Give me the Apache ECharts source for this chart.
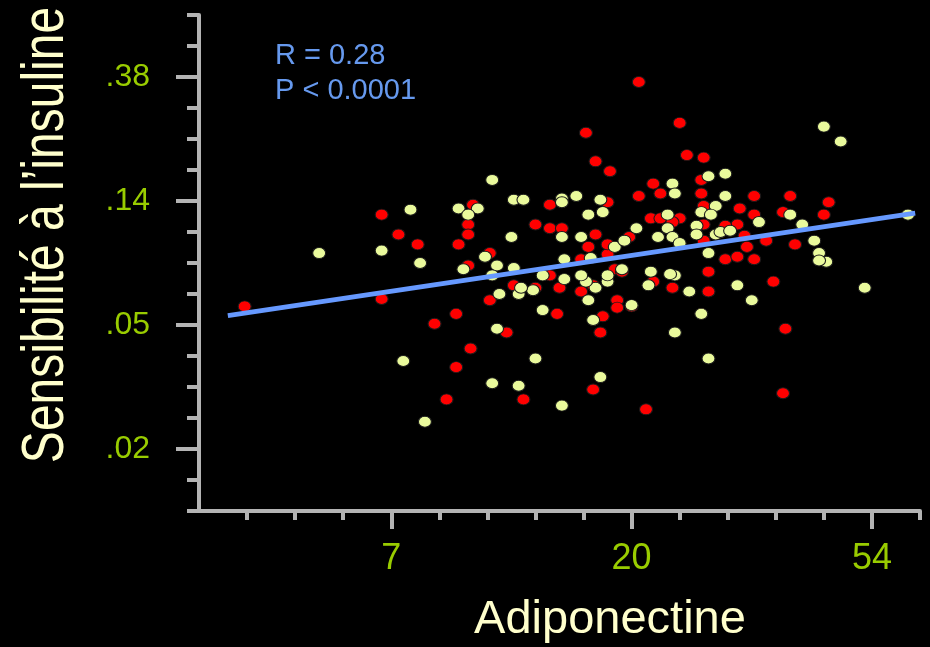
<!DOCTYPE html>
<html>
<head>
<meta charset="utf-8">
<style>
  html, body { margin: 0; padding: 0; background: #000; }
  #chart { width: 930px; height: 647px; }
</style>
<script src="https://cdn.jsdelivr.net/npm/echarts@6/dist/echarts.min.js"></script>
</head>
<body>
<div id="chart"></div>
<script>
// Both variables are plotted on natural-log scales (ln units).
const xTickValues = [2, 3, 4];
const xTickLabels = ['7', '20', '54'];
const yTickValues = [-4, -3, -2, -1];
const yTickLabels = ['.02', '.05', '.14', '.38'];

// Group 1 (red): ln(adiponectine), ln(sensibilité à l'insuline)
const redLnAdipo = [
  1.96, 2.03, 2.11, 1.39, 1.96, 2.34, 2.32, 2.32, 2.28, 2.60,
  2.66, 2.66, 2.41, 2.32, 2.66, 2.51, 2.60, 2.70, 2.41, 2.69,
  2.27, 2.18, 2.48, 2.33, 2.27, 2.23, 2.55, 3.03, 3.20, 2.81,
  2.85, 2.91, 3.23, 3.30, 3.29, 3.09, 3.12, 3.03, 3.29, 3.51,
  3.66, 3.82, 3.80, 3.63, 3.45, 3.51, 3.30, 3.08, 3.12, 3.20,
  3.17, 3.30, 3.44, 3.39, 3.47, 3.30, 3.48, 3.56, 3.68, 3.39,
  3.44, 3.51, 3.59, 3.32, 3.32, 3.17, 3.09, 3.29, 3.64, 3.63,
  3.06, 2.84, 2.87, 2.88, 2.94, 2.94, 3.00, 2.79, 2.84, 2.93,
  2.96, 2.79, 2.90, 2.82, 2.90, 2.99, 2.85, 2.71, 2.90
];
const redLnSI = [
  -2.11, -2.27, -2.35, -2.85, -2.79, -2.03, -2.19, -2.27, -2.35, -2.19,
  -2.03, -2.22, -2.42, -2.52, -2.60, -2.68, -2.70, -2.70, -2.80, -2.91,
  -2.91, -2.99, -3.06, -3.19, -3.34, -3.60, -3.60, -1.04, -1.37, -1.45,
  -1.68, -1.76, -1.63, -1.65, -1.83, -1.86, -1.94, -1.96, -1.94, -1.96,
  -1.96, -2.01, -2.11, -2.09, -2.06, -2.11, -2.04, -2.14, -2.14, -2.14,
  -2.17, -2.19, -2.19, -2.20, -2.28, -2.32, -2.37, -2.32, -2.35, -2.47,
  -2.45, -2.47, -2.65, -2.57, -2.73, -2.70, -2.65, -2.91, -3.03, -3.55,
  -3.68, -3.52, -3.06, -2.93, -2.80, -2.86, -2.85, -2.73, -2.68, -2.55,
  -2.57, -2.47, -2.43, -2.37, -2.35, -2.29, -2.27, -2.22, -2.01
];

// Group 2 (pale yellow)
const yellowLnAdipo = [
  2.42, 2.51, 2.55, 2.08, 1.96, 1.70, 2.12, 2.28, 2.36, 2.32,
  2.50, 2.39, 2.44, 2.30, 2.42, 2.51, 2.63, 2.53, 2.59, 2.45,
  2.63, 2.44, 2.05, 2.60, 2.42, 2.53, 2.14, 2.71, 2.54, 3.80,
  3.87, 3.32, 3.39, 3.17, 3.18, 3.39, 4.15, 3.66, 3.71, 3.53,
  3.35, 3.29, 3.33, 3.15, 3.15, 3.17, 3.20, 3.11, 3.02, 3.27,
  3.27, 3.35, 3.37, 3.41, 3.32, 3.76, 3.78, 3.81, 3.78, 3.97,
  3.44, 3.50, 3.24, 3.18, 3.16, 3.08, 3.07, 3.29, 3.18, 3.32,
  2.87, 2.84, 3.00, 2.82, 2.85, 2.81, 2.79, 2.90, 2.90, 2.96,
  2.72, 2.72, 2.83, 2.93, 2.97, 2.79, 2.71, 2.71, 2.77, 2.87,
  2.82, 2.88, 2.71
];
const yellowLnSI = [
  -1.83, -1.99, -1.99, -2.07, -2.40, -2.42, -2.50, -2.06, -2.06, -2.11,
  -2.29, -2.45, -2.52, -2.55, -2.60, -2.54, -2.60, -2.75, -2.72, -2.75,
  -2.88, -3.03, -3.29, -3.27, -3.47, -3.49, -3.78, -3.65, -2.70, -1.40,
  -1.52, -1.80, -1.78, -1.86, -1.94, -1.96, -2.11, -2.11, -2.19, -2.17,
  -2.04, -2.09, -2.11, -2.11, -2.22, -2.29, -2.34, -2.29, -2.22, -2.20,
  -2.27, -2.27, -2.25, -2.24, -2.42, -2.32, -2.42, -2.49, -2.48, -2.70,
  -2.68, -2.80, -2.73, -2.60, -2.59, -2.57, -2.68, -2.91, -3.06, -3.27,
  -3.42, -2.96, -2.84, -2.80, -2.70, -2.65, -2.60, -2.65, -2.60, -2.55,
  -2.63, -2.47, -2.46, -2.37, -2.32, -2.29, -2.29, -1.98, -1.96, -1.99,
  -2.11, -2.09, -2.01
];

// Least-squares fit in log-log space
const fitSlope = 0.289;
const fitIntercept = -3.306;
const fitXRange = [1.32, 4.18];
const statText = ['R = 0.28', 'P < 0.0001'];

const xRange = [1.2, 4.2];
const yRange = [-4.5, -0.5];

const FONT = "'Liberation Sans', Arial, Helvetica, sans-serif";
const AXIS_GREY = '#b4b4b4';
const LABEL_GREEN = '#99cc00';
const TITLE_CREAM = '#ffffcc';

function zip(xs, ys) { return xs.map((x, i) => [x, ys[i]]); }
function r2(v) { return Math.round(v * 100) / 100; }

// minor tick positions: every 0.2 on x, every 0.25 on y
const xMinor = [];
for (let i = 0; i <= 14; i++) {
  const v = r2(1.4 + i * 0.2);
  if (!xTickValues.includes(v)) xMinor.push(v);
}
const yMinor = [];
for (let i = 0; i <= 16; i++) {
  const v = r2(yRange[0] + i * 0.25);
  if (!yTickValues.includes(v)) yMinor.push(v);
}

const fitLine = fitXRange.map(x => [x, fitIntercept + fitSlope * x]);

const chart = echarts.init(document.getElementById('chart'), null, { renderer: 'canvas' });

const gridBox = { left: 199, right: 10, top: 15, bottom: 136, outerBoundsMode: 'none' };

chart.setOption({
  backgroundColor: '#000000',
  animation: false,
  grid: gridBox,
  xAxis: [
    {
      type: 'value', min: xRange[0], max: xRange[1],
      axisLine: { show: true, lineStyle: { color: AXIS_GREY, width: 4 } },
      axisTick: { show: true, length: 18, customValues: xTickValues, lineStyle: { color: AXIS_GREY, width: 4 } },
      axisLabel: {
        show: true, customValues: xTickValues, margin: 30,
        color: LABEL_GREEN, fontSize: 36, fontFamily: FONT,
        formatter: v => xTickLabels[xTickValues.indexOf(r2(v))]
      },
      splitLine: { show: false }
    },
    {
      type: 'value', min: xRange[0], max: xRange[1], position: 'bottom',
      axisLine: { show: false },
      axisTick: { show: true, length: 9, customValues: xMinor, lineStyle: { color: AXIS_GREY, width: 4 } },
      axisLabel: { show: false },
      splitLine: { show: false }
    }
  ],
  yAxis: [
    {
      type: 'value', min: yRange[0], max: yRange[1],
      axisLine: { show: true, lineStyle: { color: AXIS_GREY, width: 4 } },
      axisTick: { show: true, length: 23, customValues: yTickValues, lineStyle: { color: AXIS_GREY, width: 4 } },
      axisLabel: {
        show: true, customValues: yTickValues, margin: 49,
        color: LABEL_GREEN, fontSize: 32, fontFamily: FONT,
        formatter: v => yTickLabels[yTickValues.indexOf(r2(v))]
      },
      splitLine: { show: false }
    },
    {
      type: 'value', min: yRange[0], max: yRange[1], position: 'left',
      axisLine: { show: false },
      axisTick: { show: true, length: 12, customValues: yMinor, lineStyle: { color: AXIS_GREY, width: 4 } },
      axisLabel: { show: false },
      splitLine: { show: false }
    }
  ],
  series: [
    {
      type: 'scatter', xAxisIndex: 0, yAxisIndex: 0,
      data: zip(redLnAdipo, redLnSI),
      symbol: 'circle', symbolSize: [13, 11],
      itemStyle: { color: '#ff0000', borderColor: '#1a1a1a', borderWidth: 1, opacity: 1 },
      z: 2
    },
    {
      type: 'scatter', xAxisIndex: 0, yAxisIndex: 0,
      data: zip(yellowLnAdipo, yellowLnSI),
      symbol: 'circle', symbolSize: [13, 11],
      itemStyle: { color: '#eafa9c', borderColor: '#1a1a1a', borderWidth: 1, opacity: 1 },
      z: 3
    },
    {
      type: 'line', xAxisIndex: 0, yAxisIndex: 0,
      data: fitLine,
      showSymbol: false, symbol: 'none',
      lineStyle: { color: '#6699ff', width: 5 },
      z: 4
    }
  ],
  graphic: [
    {
      type: 'text', left: 275, top: 41,
      style: { text: statText[0], fill: '#6699ee', font: '29px ' + FONT }
    },
    {
      type: 'text', left: 275, top: 76,
      style: { text: statText[1], fill: '#6699ee', font: '29px ' + FONT }
    },
    {
      type: 'text', x: 610, y: 620,
      style: { text: 'Adiponectine', fill: TITLE_CREAM, font: '47px ' + FONT, align: 'center', verticalAlign: 'middle' }
    },
    {
      type: 'text', x: 46, y: 235, rotation: Math.PI / 2, scaleX: 0.8, scaleY: 1,
      style: { text: 'Sensibilité à l\u2019insuline', fill: TITLE_CREAM, font: '60px ' + FONT, align: 'center', verticalAlign: 'middle' }
    }
  ]
});
</script>
</body>
</html>
